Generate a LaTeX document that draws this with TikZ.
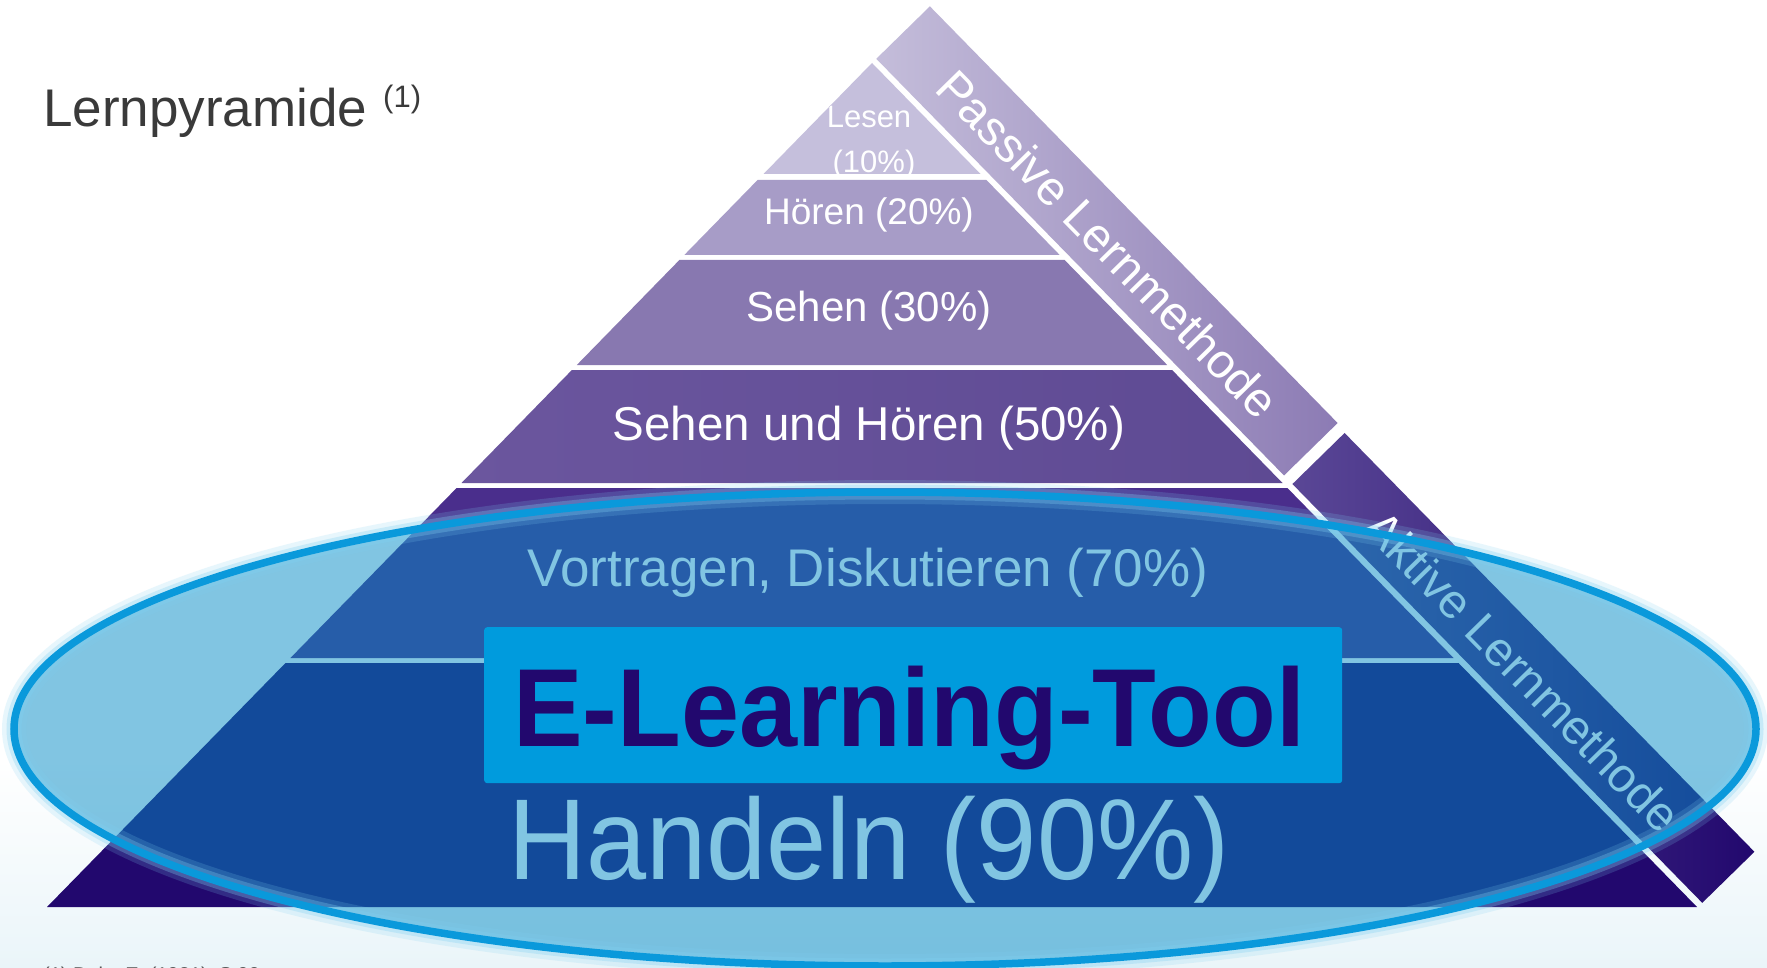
\documentclass[tikz,border=0pt]{standalone}
\usepackage{fontspec}
\setmainfont{Liberation Sans}
\newfontfamily\narrowfont[FakeStretch=0.94]{Liberation Sans}
\definecolor{lesenc}{HTML}{C5BFDC}
\definecolor{hoerenc}{HTML}{A79CC7}
\definecolor{sehenc}{HTML}{8878B0}
\definecolor{suhl}{HTML}{6B569E}
\definecolor{suhr}{HTML}{5E4A93}
\definecolor{vortrc}{HTML}{4A2E8C}
\definecolor{handelnc}{HTML}{22086E}
\definecolor{passtop}{HTML}{C4BDDA}
\definecolor{passbot}{HTML}{8C7BB4}
\definecolor{akttop}{HTML}{5A4796}
\definecolor{aktbot}{HTML}{22086E}
\definecolor{ellfill}{HTML}{048CC6}
\definecolor{ellline}{HTML}{0A99DB}
\definecolor{ellglow}{HTML}{7FD0F2}
\definecolor{elboxc}{HTML}{009BDD}
\definecolor{eltextc}{HTML}{22086E}
\definecolor{titlegray}{HTML}{3A3A3A}
\definecolor{bgblue}{HTML}{EAF5F9}
\definecolor{footgray}{HTML}{555555}
\newcommand{\fsz}[1]{\fontsize{#1}{#1}\selectfont}
\begin{document}
\begin{tikzpicture}[x=1pt,y=-1pt,
  layertext/.style={text=white, inner sep=0pt, anchor=base},
  bandtext/.style={text=white, inner sep=0pt, anchor=center, rotate=-45.62, font=\fsz{48}}]
\useasboundingbox (0,0) rectangle (1767,968);
\fill[white] (0,0) rectangle (1767,968);
\shade[top color=white, bottom color=bgblue] (0,760) rectangle (1767,968);

% pyramid layers
\fill[lesenc] (872,63) -- (980.5,174) -- (763.5,174) -- cycle;
\fill[hoerenc] (757.6,180) -- (986.4,180) -- (1059.7,255) -- (684.3,255) -- cycle;
\fill[sehenc] (679.4,260) -- (1064.6,260) -- (1167.2,365) -- (576.8,365) -- cycle;
\shade[left color=suhl, right color=suhr] (571.9,370) -- (1172.1,370) -- (1282.5,483) -- (461.5,483) -- cycle;
\fill[vortrc] (456.6,488) -- (1287.4,488) -- (1453.6,658) -- (290.4,658) -- cycle;
\fill[handelnc] (285.5,663) -- (1458.5,663) -- (1697,907) -- (47,907) -- cycle;

% side bands
\begin{scope}[shift={(872,63)}, rotate=-45.62]
  \shade[left color=passtop, right color=passbot] (0,-6) rectangle (583,-81);
  \shade[left color=akttop, right color=aktbot] (595,-6) rectangle (1181,-79);
\end{scope}

% texts
\begin{scope}
  \clip (872,63) -- (980.5,174) -- (763.5,174) -- cycle;
  \node[layertext, font=\fsz{31}] (lesen) at (869,128) {Lesen};
  \node[layertext, font=\fsz{31}] (lesenp) at (874,173) {(10\%)};
\end{scope}
\node[layertext, font=\fsz{37}] (hoeren) at (869,225) {Hören (20\%)};
\node[layertext, font=\fsz{42}] (sehen) at (869,322) {Sehen (30\%)};
\node[layertext, font=\fsz{47.5}] (suh) at (869,440) {Sehen und Hören (50\%)};
\node[layertext, font=\fsz{53}] (vortr) at (868,586) {Vortragen, Diskutieren (70\%)};
\node[layertext, font=\narrowfont\fsz{115}] (handeln) at (869,879) {Handeln (90\%)};
\node[bandtext] (passive) at (1108,244) {Passive Lernmethode};
\node[bandtext] (aktive) at (1523,671) {Aktive Lernmethode};

% title and footnote
\node[anchor=base west, inner sep=0pt, text=titlegray, font=\fsz{53}] (title) at (43,127) {Lernpyramide};
\node[anchor=base west, inner sep=0pt, text=titlegray, font=\fsz{31}] (titleref) at (383,108) {(1)};
\node[anchor=base west, inner sep=0pt, text=footgray, font=\fsz{20}] (foot) at (43,981) {(1) Dale, E. (1981), S.99};

% ellipse
\fill[ellfill, fill opacity=0.5] (885,729) ellipse [x radius=871, y radius=237];
\draw[ellglow, line width=24pt, draw opacity=0.18] (885,729) ellipse [x radius=871, y radius=237];
\draw[ellglow, line width=15pt, draw opacity=0.3] (885,729) ellipse [x radius=871, y radius=237];
\draw[ellline, line width=7.5pt] (885,729) ellipse [x radius=871, y radius=237];

% E-Learning box
\node[fill=elboxc, rounded corners=3pt, minimum width=858pt, minimum height=156pt, inner sep=0pt, anchor=north west] (elbox) at (484,627) {};
\node[anchor=base west, inner sep=0pt, text=eltextc, font=\narrowfont\bfseries\fsz{111}] (eltext) at (513,746) {E-Learning-Tool};
\end{tikzpicture}
\end{document}
